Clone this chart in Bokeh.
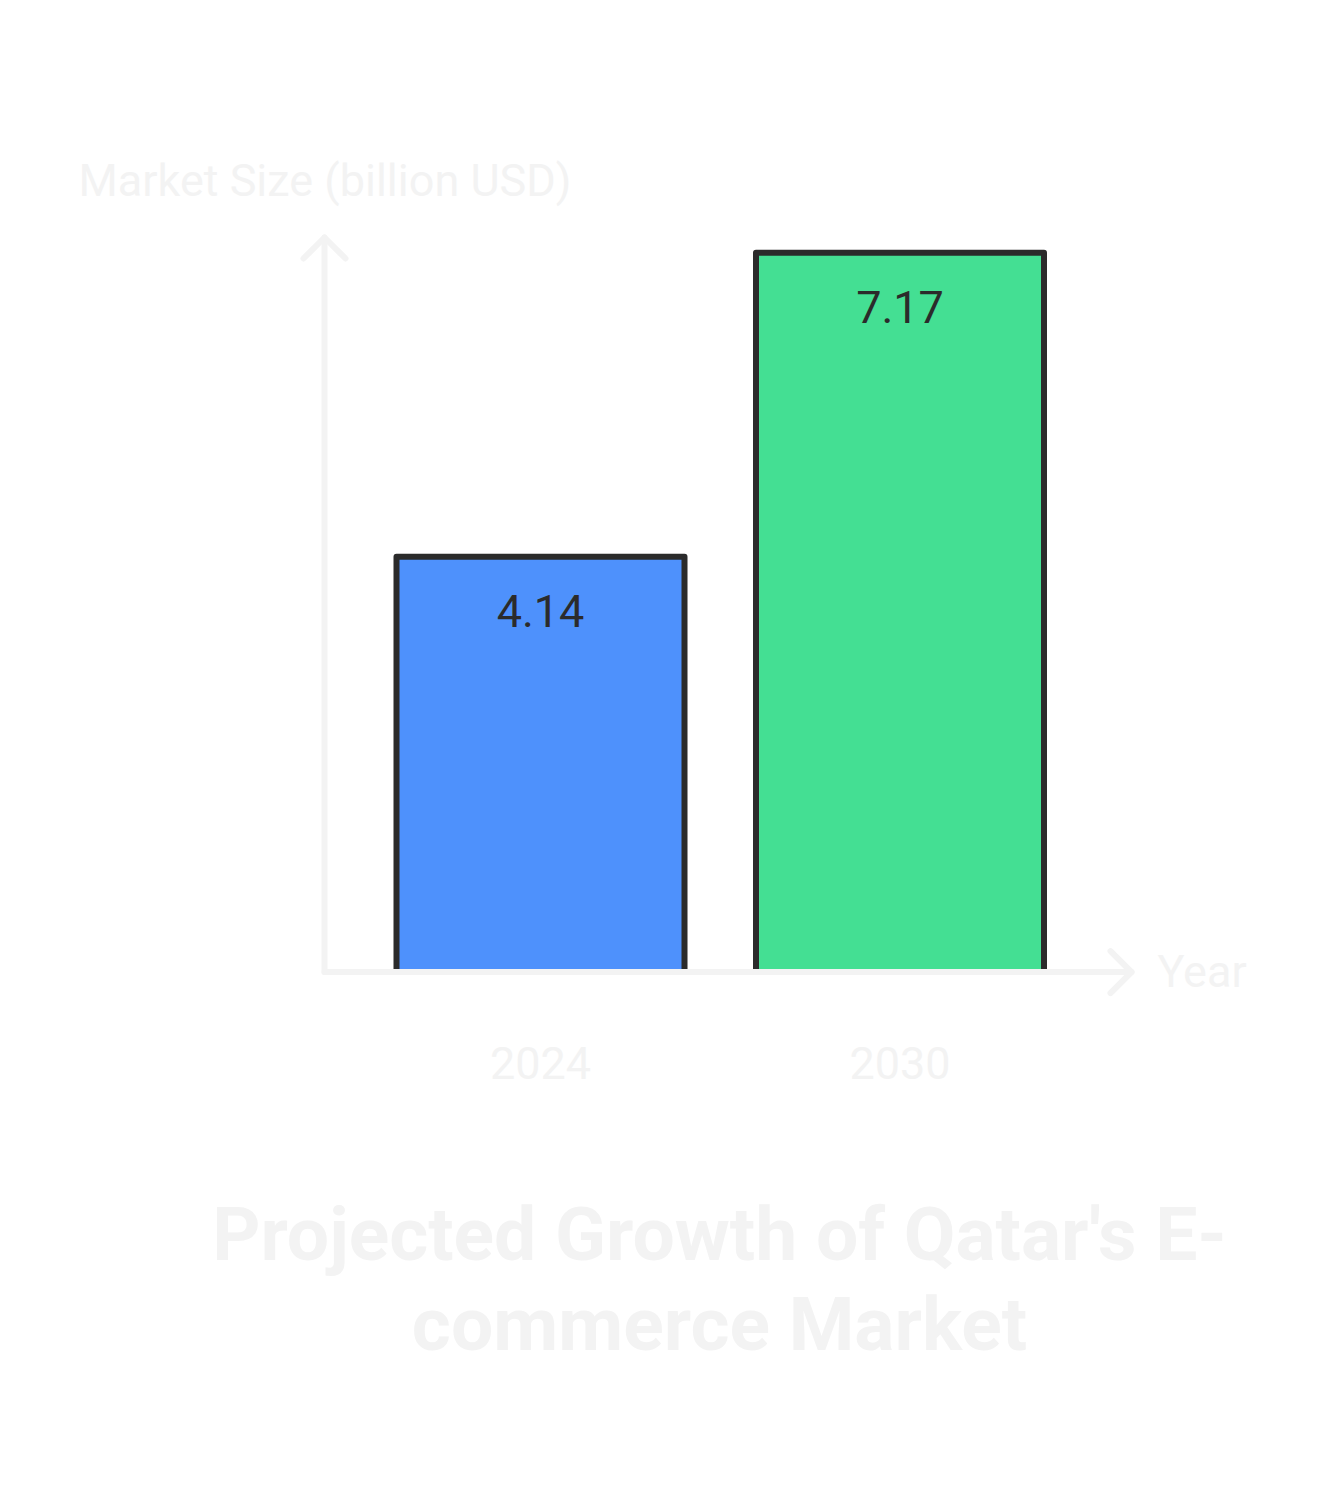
from bokeh.plotting import figure
from bokeh.models import Range1d
from bokeh.embed import file_html
from bokeh.resources import INLINE
from bokeh.core.properties import value

# ---- data ----
years = ["2024", "2030"]
market_size = [4.14, 7.17]
bar_colors = ["#4e91fc", "#44df93"]
value_labels = ["4.14", "7.17"]
title_lines = ["Projected Growth of Qatar's E-", "commerce Market"]
y_axis_title = "Market Size (billion USD)"
x_axis_title = "Year"

W, H = 1316, 1496
# layout mapping (canvas pixels -> data)
X0_PX, X_STEP = 540.0, 359.5        # canvas x of category 0, px per category
Y0_PX, Y_STEP = 971.6, 100.33       # canvas y of value 0, px per unit


def dx(px):
    return (px - X0_PX) / X_STEP


def dy(py):
    return (Y0_PX - py) / Y_STEP


p = figure(width=W, height=H, output_backend="svg", toolbar_location=None,
           x_range=Range1d(dx(0), dx(W)), y_range=Range1d(dy(H), dy(0)),
           min_border=0, min_border_left=0, min_border_right=0,
           min_border_top=0, min_border_bottom=0)
p.axis.visible = False
p.grid.visible = False
p.outline_line_color = None
p.background_fill_color = "white"
p.border_fill_color = "white"

light = "#f3f3f3"
dark = "#2b2b2b"
FONT = value("Roboto")

xs = list(range(len(years)))
bw = 288.0 / X_STEP

# bars: fill, then outline on left/top/right
p.quad(left=[x - bw / 2 for x in xs], right=[x + bw / 2 for x in xs],
       bottom=[0] * len(xs), top=market_size,
       fill_color=bar_colors, line_color=None)
p.multi_line(xs=[[x - bw / 2, x - bw / 2, x + bw / 2, x + bw / 2] for x in xs],
             ys=[[0, v, v, 0] for v in market_size],
             line_color=dark, line_width=6, line_join="round")

# value labels inside bars
p.text(x=xs, y=[v - 54.0 / Y_STEP for v in market_size], text=value_labels,
       text_font=FONT, text_font_size="45px", text_color=dark,
       text_align="center", text_baseline="middle")

# axes lines
ax_x = dx(324)
p.line([ax_x, ax_x], [0, dy(237)], line_color=light, line_width=6, line_cap="round")
p.line([ax_x, dx(1131)], [0, 0], line_color=light, line_width=6, line_cap="round")
# arrow heads
p.line([dx(303), ax_x, dx(345)], [dy(258), dy(237), dy(258)],
       line_color=light, line_width=6, line_cap="round", line_join="round")
p.line([dx(1110), dx(1131), dx(1110)], [dy(950.6), 0, dy(992.6)],
       line_color=light, line_width=6, line_cap="round", line_join="round")

# axis titles
p.text(x=[dx(78)], y=[dy(180)], text=[y_axis_title], text_font=FONT,
       text_font_size="45px", text_color=light, text_align="left",
       text_baseline="middle")
p.text(x=[dx(1157)], y=[dy(971)], text=[x_axis_title], text_font=FONT,
       text_font_size="45px", text_color=light, text_align="left",
       text_baseline="middle")

# tick labels
p.text(x=xs, y=[dy(1062)] * len(xs), text=years, text_font=FONT,
       text_font_size="45px", text_color=light, text_align="center",
       text_baseline="middle")

# chart title
p.text(x=[dx(719)] * 2, y=[dy(1233), dy(1323)], text=title_lines, text_font=FONT,
       text_font_size="75px", text_font_style="bold", text_color=light,
       text_align="center", text_baseline="middle")

open("out.html", "w").write(file_html(p, INLINE))
